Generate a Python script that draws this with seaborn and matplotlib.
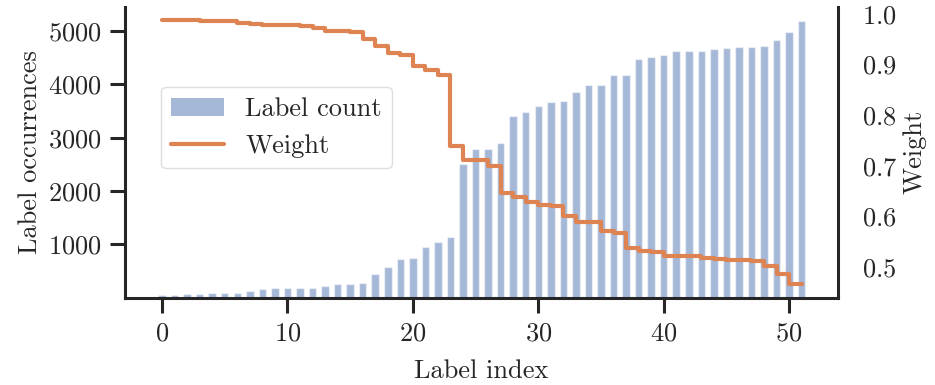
import numpy as np
import pandas as pd
import matplotlib
matplotlib.use("Agg")
import matplotlib.pyplot as plt
from matplotlib.ticker import MultipleLocator, FixedLocator
from matplotlib.patches import Patch
from matplotlib.lines import Line2D
import seaborn as sns

# Per-label statistics, sorted by occurrence count
label_index = list(range(52))
label_count = [59, 59, 60, 75, 82, 82, 82, 132, 157, 176, 176, 180, 189, 214,
               265, 265, 283, 441, 580, 725, 743, 951, 1046, 1133, 2504, 2789,
               2789, 2902, 3408, 3484, 3598, 3661, 3680, 3863, 3983, 3983, 4167,
               4178, 4476, 4520, 4558, 4627, 4627, 4627, 4665, 4678, 4697, 4697,
               4722, 4823, 4982, 5196]
weight = [0.988, 0.988, 0.987, 0.987, 0.986, 0.986, 0.985, 0.981, 0.979, 0.978,
          0.977, 0.977, 0.976, 0.972, 0.967, 0.966, 0.965, 0.950, 0.937, 0.923,
          0.919, 0.898, 0.889, 0.880, 0.740, 0.712, 0.712, 0.699, 0.647, 0.639,
          0.629, 0.623, 0.621, 0.602, 0.589, 0.589, 0.571, 0.568, 0.538, 0.533,
          0.530, 0.523, 0.522, 0.522, 0.519, 0.517, 0.515, 0.515, 0.513, 0.503,
          0.487, 0.466]
count_ticks = [1000, 2000, 3000, 4000, 5000]
weight_ticks = [0.5, 0.6, 0.7, 0.8, 0.9, 1.0]

df = pd.DataFrame({"index": label_index, "count": label_count, "weight": weight})

sns.set_theme(style="ticks")
plt.rcParams.update({
    "font.family": "serif",
    "font.serif": ["cmr10", "DejaVu Serif"],
    "mathtext.fontset": "cm",
    "axes.formatter.use_mathtext": True,
    "font.size": 19,
    "axes.labelsize": 19,
    "xtick.labelsize": 19,
    "ytick.labelsize": 19,
    "legend.fontsize": 19,
    "axes.linewidth": 2.2,
    "xtick.major.width": 2.2,
    "ytick.major.width": 2.2,
    "xtick.major.size": 11,
    "ytick.major.size": 11,
    "xtick.major.pad": 6,
    "ytick.major.pad": 6,
    "text.color": "#262626",
    "axes.labelcolor": "#262626",
    "xtick.color": "#262626",
    "ytick.color": "#262626",
    "axes.edgecolor": "#262626",
})

pal = sns.color_palette("deep")
blue, orange = pal[0], pal[1]

fig, ax = plt.subplots(figsize=(9.35, 3.85), dpi=100)
fig.subplots_adjust(left=0.1337, right=0.8963, bottom=0.2268, top=0.9826)

sns.barplot(data=df, x="index", y="count", native_scale=True, width=0.6,
            color=blue, saturation=1, alpha=0.5, ax=ax)
ax.set_xlim(-2.95, 53.9)
ax.xaxis.set_major_locator(MultipleLocator(10))
ax.yaxis.set_major_locator(FixedLocator(count_ticks))
ax.set_xlabel("Label index", labelpad=10.5)
ax.set_ylabel("Label occurrences")

ax2 = ax.twinx()
sns.lineplot(data=df, x="index", y="weight", drawstyle="steps-pre",
             color=orange, linewidth=3, ax=ax2, legend=False)
ax2.yaxis.set_major_locator(FixedLocator(weight_ticks))
ax2.set_ylabel("Weight")
ax2.grid(False)

sns.despine(ax=ax, top=True, right=True)
sns.despine(ax=ax2, top=True, left=True, bottom=True, right=False)

handles = [Patch(facecolor=blue, alpha=0.5, edgecolor="none", label="Label count"),
           Line2D([0], [0], color=orange, linewidth=3, label="Weight")]
ax2.legend(handles=handles, loc="upper left", bbox_to_anchor=(0.05, 0.725),
           borderaxespad=0, frameon=True, edgecolor="#d5d5d5", fancybox=True)

fig.savefig("out.png", dpi=100)
